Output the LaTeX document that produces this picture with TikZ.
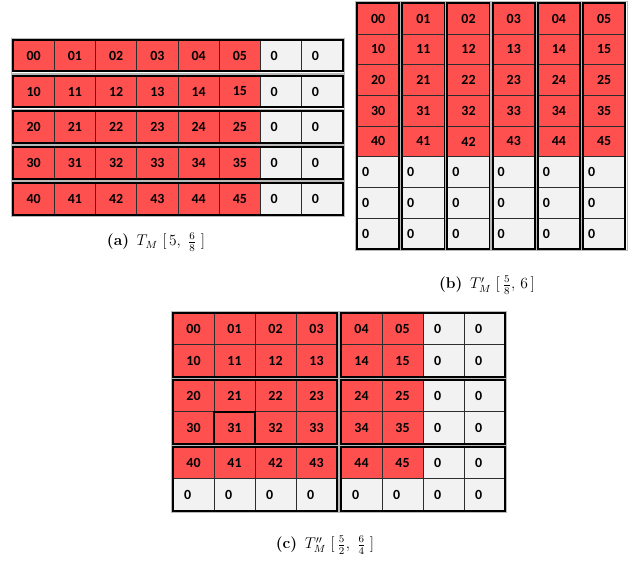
\documentclass[tikz,border=0pt]{standalone}
\usepackage{fontspec}
\newfontfamily\cellfont{Carlito}
\definecolor{cellred}{RGB}{255,80,80}
\definecolor{cellgray}{RGB}{242,242,242}
\definecolor{thinline}{RGB}{45,45,45}
\definecolor{halo}{RGB}{185,185,185}
\begin{document}
\begin{tikzpicture}[x=1bp,y=-1bp,
  cellbase/.style={rectangle, draw=thinline, line width=0.8bp, inner sep=0pt, outer sep=0pt,
    font=\cellfont\bfseries\fontsize{14}{16}\selectfont},
  redcell/.style={cellbase, fill=cellred},
  graycell/.style={cellbase, fill=cellgray},
  zerotext/.style={inner sep=0pt, outer sep=0pt, font=\cellfont\bfseries\fontsize{14}{16}\selectfont},
  outerbox/.style={draw=black, line width=2bp},
  halobox/.style={draw=halo, line width=0.8bp},
  caption/.style={font=\fontsize{12}{14}\selectfont, inner sep=0pt}]
\useasboundingbox (0,0) rectangle (638,565);

% ---------- panel (a) ----------
\foreach \r in {0,...,4} {
  \foreach \c in {0,...,7} {
    \pgfmathsetmacro\xx{13+41.25*\c+20.625}
    \pgfmathsetmacro\yy{40+35.75*\r+15.75}
    \ifnum\c<6
      \node[redcell, minimum width=41.25bp, minimum height=31.5bp] (a-\r-\c) at (\xx,\yy) {\r\c};
    \else
      \node[graycell, minimum width=41.25bp, minimum height=31.5bp] (a-\r-\c) at (\xx,\yy) {};
      \node[zerotext, anchor=west, xshift=10bp] (a-\r-\c-t) at (a-\r-\c.west) {0};
    \fi
  }
  \draw[halobox] ([shift={(-1.8,-1.8)}]a-\r-0.north west) rectangle ([shift={(1.8,1.8)}]a-\r-7.south east);
  \draw[outerbox] (a-\r-0.north west) rectangle (a-\r-7.south east);
}

% ---------- panel (b) ----------
\foreach \c in {0,...,5} {
  \foreach \r in {0,...,7} {
    \pgfmathsetmacro\xx{357+45.2*\c+21.15}
    \pgfmathsetmacro\yy{3.3+30.7*\r+15.35}
    \ifnum\r<5
      \node[redcell, minimum width=42.3bp, minimum height=30.7bp] (b-\r-\c) at (\xx,\yy) {\r\c};
    \else
      \node[graycell, minimum width=42.3bp, minimum height=30.7bp] (b-\r-\c) at (\xx,\yy) {};
      \node[zerotext, anchor=west, xshift=5bp] (b-\r-\c-t) at (b-\r-\c.west) {0};
    \fi
  }
  \draw[halobox] ([shift={(-1.8,-1.8)}]b-0-\c.north west) rectangle ([shift={(1.8,1.8)}]b-7-\c.south east);
  \draw[outerbox] (b-0-\c.north west) rectangle (b-7-\c.south east);
}

% ---------- panel (c) ----------
\foreach \bi in {0,1,2} {
  \foreach \bj in {0,1} {
    \foreach \i in {0,1} {
      \foreach \j in {0,...,3} {
        \pgfmathtruncatemacro\rr{2*\bi+\i}
        \pgfmathtruncatemacro\cc{4*\bj+\j}
        \pgfmathsetmacro\xx{173+168*\bj+41*\j+20.5}
        \pgfmathsetmacro\yy{313+67*\bi+31.75*\i+15.875}
        \pgfmathtruncatemacro\isred{(\rr<5)&&(\cc<6)}
        \ifnum\isred=1
          \node[redcell, minimum width=41bp, minimum height=31.75bp] (c-\rr-\cc) at (\xx,\yy) {\rr\cc};
        \else
          \node[graycell, minimum width=41bp, minimum height=31.75bp] (c-\rr-\cc) at (\xx,\yy) {};
          \node[zerotext, anchor=west, xshift=11bp] (c-\rr-\cc-t) at (c-\rr-\cc.west) {0};
        \fi
      }
    }
    \pgfmathtruncatemacro\ra{2*\bi}
    \pgfmathtruncatemacro\rb{2*\bi+1}
    \pgfmathtruncatemacro\ca{4*\bj}
    \pgfmathtruncatemacro\cb{4*\bj+3}
    \draw[halobox] ([shift={(-1.8,-1.8)}]c-\ra-\ca.north west) rectangle ([shift={(1.8,1.8)}]c-\rb-\cb.south east);
    \draw[outerbox] (c-\ra-\ca.north west) rectangle (c-\rb-\cb.south east);
  }
}
\draw[line width=1.6bp] (c-3-1.north west) rectangle (c-3-1.south east);

% ---------- captions ----------
\node[caption] (capa) at (156,242) {\scalebox{1.3}{\textbf{(a)}\, $T_M\;[\,5,\;\frac{6}{8}\;]$}};
\node[caption] (capb) at (487,285) {\scalebox{1.3}{\textbf{(b)}\, $T'_M\;[\,\frac{5}{8},\,6\,]$}};
\node[caption] (capc) at (325,545) {\scalebox{1.3}{\textbf{(c)}\, $T''_M\;[\,\frac{5}{2},\;\frac{6}{4}\;]$}};
\end{tikzpicture}
\end{document}
